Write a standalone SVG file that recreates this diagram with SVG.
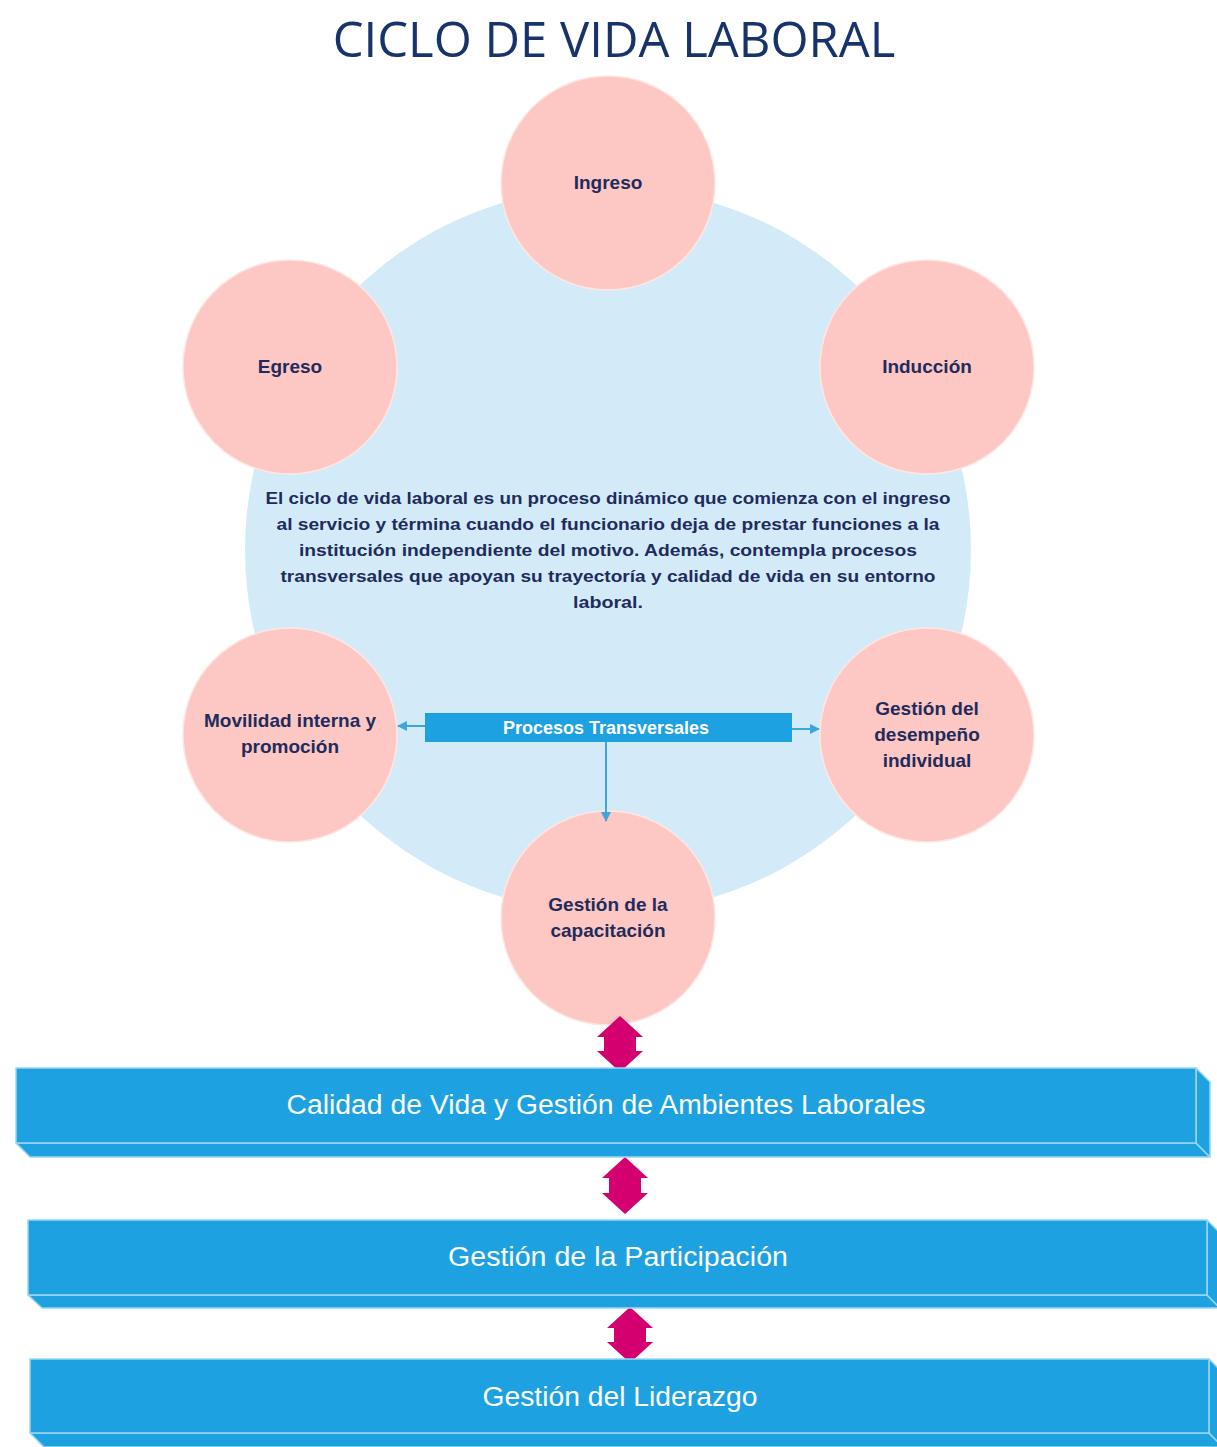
<svg xmlns="http://www.w3.org/2000/svg" width="1217" height="1447" viewBox="0 0 1217 1447">
<defs>
<style>
.bg{fill:#ffffff}
.hub{fill:#D3EBF8}
.node{fill:#FDC8C3;stroke:#FFE6E3;stroke-width:1.5}
.lbl{font-family:"Liberation Sans",Arial,sans-serif;font-weight:bold;font-size:19px;fill:#1F2B5C;text-anchor:middle}
.para{font-family:"Liberation Sans",Arial,sans-serif;font-weight:bold;font-size:16px;fill:#1F2B5C;text-anchor:middle}
.title{font-family:"Open Sans","Liberation Sans",sans-serif;font-size:49px;fill:#17336B;text-anchor:middle}
.box{fill:#1DA1E0}
.boxtxt{font-family:"Liberation Sans",Arial,sans-serif;font-weight:bold;font-size:18px;fill:#ffffff;text-anchor:middle}
.conn{stroke:#3DA6DD;stroke-width:2;fill:none}
.face{fill:#1DA1E0;stroke:#9AD6F3;stroke-width:1.5;stroke-linejoin:round}
.bartxt{font-family:"Liberation Sans",Arial,sans-serif;font-size:27px;fill:#ffffff;text-anchor:middle}
.dbl{fill:#D5006F}
</style>
<marker id="ah" viewBox="0 0 10 10" refX="9" refY="5" markerWidth="5" markerHeight="5" orient="auto">
<path d="M0,0 L10,5 L0,10 z" fill="#3DA6DD"/>
</marker>
</defs>
<rect class="bg" x="0" y="0" width="1217" height="1447"/>
<text class="title" x="614" y="57">CICLO DE VIDA LABORAL</text>

<g id="hub">
<circle class="hub" cx="608" cy="550" r="363"/>
<text class="para" x="608" y="504" textLength="685" lengthAdjust="spacingAndGlyphs">El ciclo de vida laboral es un proceso dinámico que comienza con el ingreso</text>
<text class="para" x="608" y="530" textLength="663" lengthAdjust="spacingAndGlyphs">al servicio y términa cuando el funcionario deja de prestar funciones a la</text>
<text class="para" x="608" y="556" textLength="618" lengthAdjust="spacingAndGlyphs">institución independiente del motivo. Además, contempla procesos</text>
<text class="para" x="608" y="582" textLength="655" lengthAdjust="spacingAndGlyphs">transversales que apoyan su trayectoría y calidad de vida en su entorno</text>
<text class="para" x="608" y="608" textLength="70" lengthAdjust="spacingAndGlyphs">laboral.</text>
</g>

<g id="ingreso">
<circle class="node" cx="608" cy="183" r="107"/>
<text class="lbl" x="608" y="189">Ingreso</text>
</g>
<g id="egreso">
<circle class="node" cx="290" cy="367" r="107"/>
<text class="lbl" x="290" y="373">Egreso</text>
</g>
<g id="induccion">
<circle class="node" cx="927" cy="367" r="107"/>
<text class="lbl" x="927" y="373">Inducción</text>
</g>
<g id="movilidad">
<circle class="node" cx="290" cy="735" r="107"/>
<text class="lbl" x="290" y="727">Movilidad interna y</text>
<text class="lbl" x="290" y="753">promoción</text>
</g>
<g id="desempeno">
<circle class="node" cx="927" cy="735" r="107"/>
<text class="lbl" x="927" y="715">Gestión del</text>
<text class="lbl" x="927" y="741">desempeño</text>
<text class="lbl" x="927" y="767">individual</text>
</g>
<g id="capacitacion">
<circle class="node" cx="608" cy="918" r="107"/>
<text class="lbl" x="608" y="911">Gestión de la</text>
<text class="lbl" x="608" y="937">capacitación</text>
</g>

<g id="connectors">
<line class="conn" x1="425" y1="726" x2="398" y2="726" marker-end="url(#ah)"/>
<line class="conn" x1="792" y1="729" x2="819" y2="729" marker-end="url(#ah)"/>
<line class="conn" x1="606" y1="742" x2="606" y2="821" marker-end="url(#ah)"/>
<path class="dbl" d="M620,1016 L643,1037 L636,1037 L636,1051 L643,1051 L620,1072 L597,1051 L604,1051 L604,1037 L597,1037 Z"/>
<path class="dbl" d="M625,1157 L648,1178 L641,1178 L641,1193 L648,1193 L625,1214 L602,1193 L609,1193 L609,1178 L602,1178 Z"/>
<path class="dbl" d="M630,1307 L653,1328 L646,1328 L646,1342 L653,1342 L630,1363 L607,1342 L614,1342 L614,1328 L607,1328 Z"/>
</g>

<g id="procesos">
<rect class="box" x="425" y="713" width="367" height="29"/>
<text class="boxtxt" x="606" y="734">Procesos Transversales</text>
</g>

<g id="bar-calidad">
<polygon class="face" points="16,1143 1196,1143 1210,1157 30,1157"/>
<polygon class="face" points="1196,1068 1210,1082 1210,1157 1196,1143"/>
<rect class="face" x="16" y="1068" width="1180" height="75"/>
<text class="bartxt" x="606" y="1114" textLength="639" lengthAdjust="spacingAndGlyphs">Calidad de Vida y Gestión de Ambientes Laborales</text>
</g>
<g id="bar-participacion">
<polygon class="face" points="28,1295 1207,1295 1220,1308 42,1308"/>
<polygon class="face" points="1207,1220 1220,1233 1220,1308 1207,1295"/>
<rect class="face" x="28" y="1220" width="1179" height="75"/>
<text class="bartxt" x="618" y="1266" textLength="340" lengthAdjust="spacingAndGlyphs">Gestión de la Participación</text>
</g>
<g id="bar-liderazgo">
<polygon class="face" points="30,1433 1209,1433 1223,1447 44,1447"/>
<polygon class="face" points="1209,1359 1223,1373 1223,1447 1209,1433"/>
<rect class="face" x="30" y="1359" width="1179" height="74"/>
<text class="bartxt" x="620" y="1406" textLength="275" lengthAdjust="spacingAndGlyphs">Gestión del Liderazgo</text>
</g>
</svg>
